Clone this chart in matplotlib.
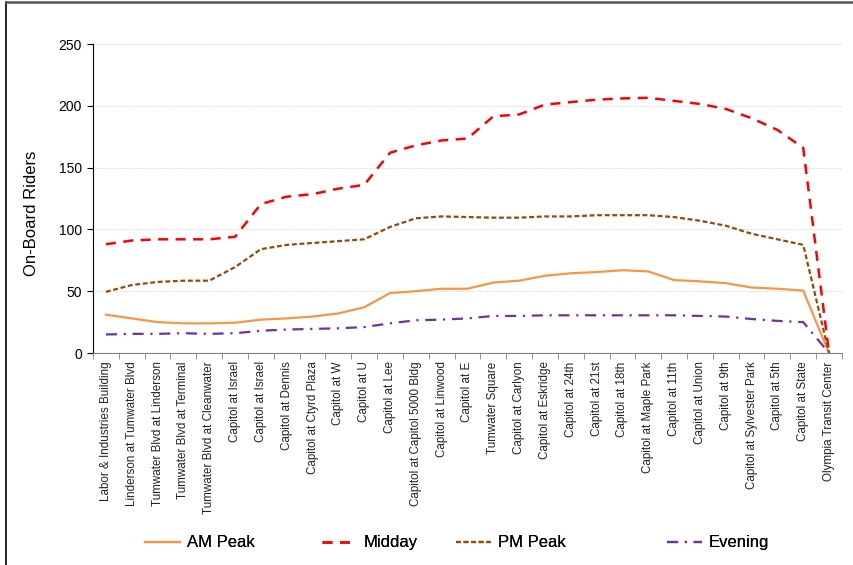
import matplotlib
matplotlib.use("Agg")
import matplotlib.pyplot as plt
from matplotlib.lines import Line2D
import numpy as np

stops = ["Labor & Industries Building", "Linderson at Tumwater Blvd", "Tumwater Blvd at Linderson",
         "Tumwater Blvd at Terminal", "Tumwater Blvd at Cleanwater", "Capitol at Israel",
         "Capitol at Israel", "Capitol at Dennis", "Capitol at Ctyrd Plaza", "Capitol at W",
         "Capitol at U", "Capitol at Lee", "Capitol at Capitol 5000 Bldg", "Capitol at Linwood",
         "Capitol at E", "Tumwater Square", "Capitol at Carlyon", "Capitol at Eskridge",
         "Capitol at 24th", "Capitol at 21st", "Capitol at 18th", "Capitol at Maple Park",
         "Capitol at 11th", "Capitol at Union", "Capitol at 9th", "Capitol at Sylvester Park",
         "Capitol at 5th", "Capitol at State", "Olympia Transit Center"]

am_peak = [31, 28, 25, 24, 24, 24.5, 27, 28, 29.5, 32, 37, 48.5, 50, 52,
           52, 57, 58.5, 62.5, 64.5, 65.5, 67, 66, 59, 58, 56.5, 53, 52, 50.5, 0]
midday = [88, 91, 92, 92, 92, 94, 120.5, 126.5, 128.5, 133, 136, 162, 168, 172,
          173.5, 191.5, 193, 201, 203, 205, 206, 206.5, 204, 201.5, 197.5, 190, 180.5, 166, 0]
pm_peak = [49.5, 55, 57.5, 58.5, 58.5, 69.5, 84, 87.5, 89, 90.5, 92, 102, 109, 110.5,
           110, 109.5, 109.5, 110.5, 110.5, 111.5, 111.5, 111.5, 110, 107, 103, 96.5, 92, 87.5, 0]
evening = [15, 15.5, 15.5, 16, 15.5, 16, 18, 19, 19.5, 20, 21, 24, 26.5, 27,
           28, 30, 30, 30.5, 30.5, 30.5, 30.5, 30.5, 30.5, 30, 29.5, 27.5, 26, 25, 0]

yticks = [0, 50, 100, 150, 200, 250]

plt.rcParams['font.family'] = ['Liberation Sans', 'DejaVu Sans']

fig = plt.figure(figsize=(8.54, 5.65), dpi=100)
ax = fig.add_axes([0.1089, 0.3752, 0.877, 0.5469])

x = np.arange(len(stops))
h_am, = ax.plot(x, am_peak, color="#F79646", lw=1.6, linestyle="-", label="AM Peak", clip_on=False)
h_md, = ax.plot(x, midday, color="#FF0000", lw=1.8, linestyle=(0, (4, 3)), label="Midday", clip_on=False)
h_pm, = ax.plot(x, pm_peak, color="#984807", lw=1.6, linestyle=(0, (2.2, 1.2)), label="PM Peak", clip_on=False)
h_ev, = ax.plot(x, evening, color="#7030A0", lw=1.6, linestyle=(0, (5, 3, 1, 3)), label="Evening", clip_on=False)

ax.set_xlim(-0.5, len(stops) - 0.5)
ax.set_ylim(0, 250)
ax.set_yticks(yticks)
ax.set_yticklabels([str(v) for v in yticks], fontsize=10)
ax.yaxis.grid(True, color="#D9D9D9", linestyle=(0, (1, 1)), lw=0.8)
ax.set_axisbelow(True)

ax.set_xticks(x)
ax.set_xticklabels(stops, rotation=90, fontsize=8.4, color="#222222",
                   family=['Liberation Sans Narrow', 'Liberation Sans'])
ax.set_xticks(np.arange(-0.5, len(stops) + 0.5, 1), minor=True)
ax.tick_params(axis='x', which='major', length=0, pad=6)
ax.tick_params(axis='x', which='minor', length=4, color="#808080", direction='out')
ax.tick_params(axis='y', length=4, color="black", direction='out', pad=4)

for s in ["top", "right"]:
    ax.spines[s].set_visible(False)
ax.spines["left"].set_color("black")
ax.spines["bottom"].set_color("#808080")

ax.set_ylabel("On-Board Riders", fontsize=12)
ax.yaxis.set_label_coords(-0.072, 0.453)

# legend entries placed individually
leg_x = [0.170, 0.377, 0.534, 0.781]
for h, lx in zip([h_am, h_md, h_pm, h_ev], leg_x):
    lg = fig.legend(handles=[h], loc="center left", bbox_to_anchor=(lx, 0.039),
                    frameon=False, fontsize=12, handlelength=2.1, handletextpad=0.4,
                    borderpad=0, borderaxespad=0)
    fig.add_artist(lg)

# outer frame (partially visible)
fig.add_artist(Line2D([0.007, 0.007], [0, 0.997], transform=fig.transFigure, color="black", lw=1.2))
fig.add_artist(Line2D([0.007, 1], [0.997, 0.997], transform=fig.transFigure, color="#555555", lw=1.8))

fig.savefig("out.png", dpi=100)
